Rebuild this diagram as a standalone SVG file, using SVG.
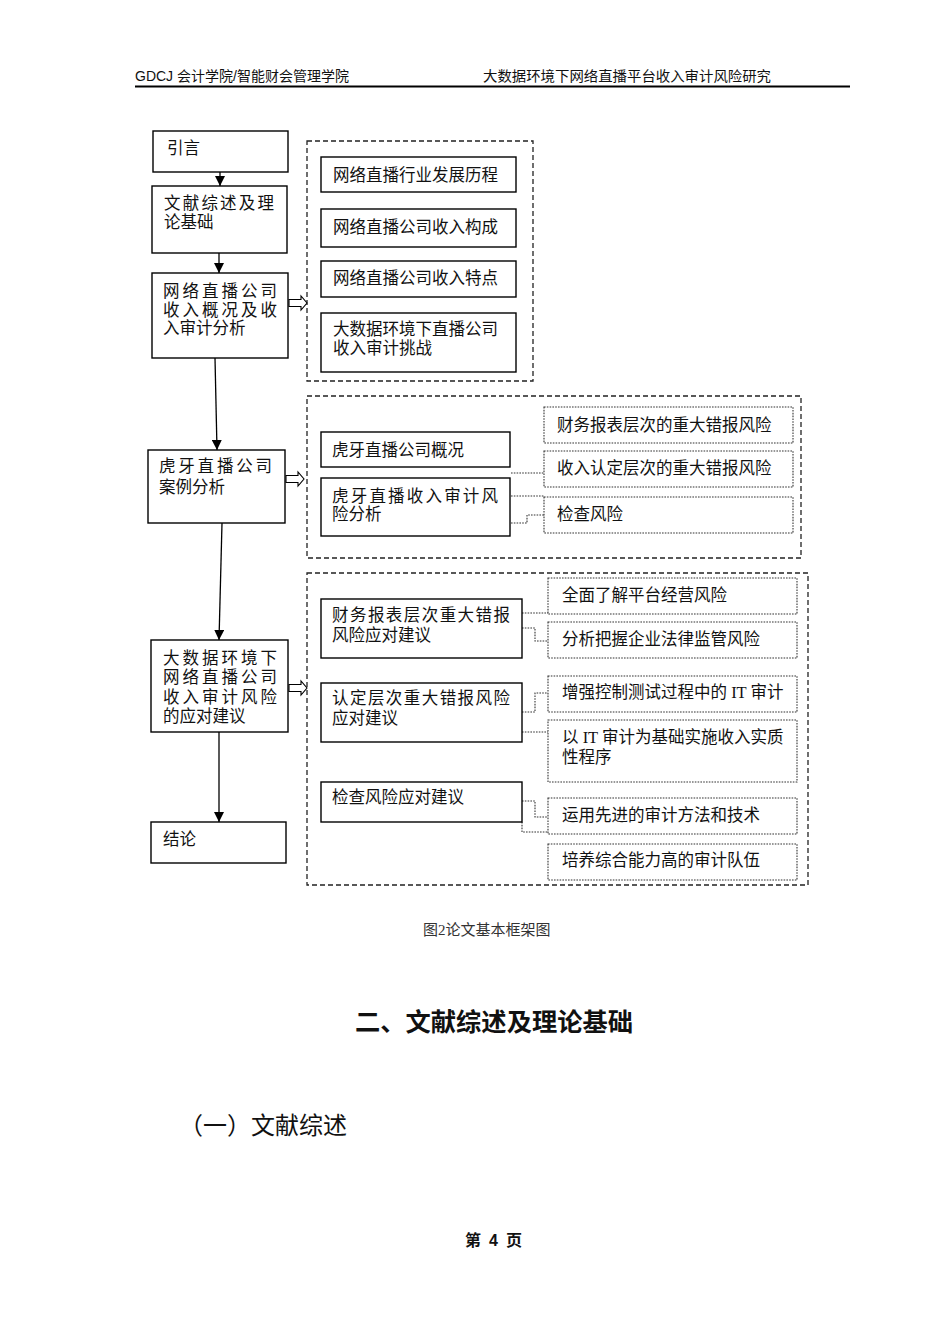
<svg xmlns="http://www.w3.org/2000/svg" width="950" height="1344" viewBox="0 0 950 1344">
<style>
text{font-family:"Liberation Sans","Noto Sans CJK SC",sans-serif;fill:#111;}
.t{font-size:16.5px;}
.s{font-family:"Liberation Serif","Noto Sans CJK SC",serif;font-size:16.5px;}
.box{fill:#fff;stroke:#000;stroke-width:1.4;}
.dbox{fill:#fff;stroke:#333;stroke-width:1.1;stroke-dasharray:1.6 1.2;}
.grp{fill:none;stroke:#222;stroke-width:1.3;stroke-dasharray:5 3;}
.con{fill:none;stroke:#333;stroke-width:1.1;stroke-dasharray:1.6 1.2;}
.ln{fill:none;stroke:#000;stroke-width:1.3;}
.hol{fill:#fff;stroke:#000;stroke-width:1.1;}
.hdr{font-size:14px;}
</style>
<defs>
<marker id="ah" viewBox="0 0 10 10" refX="10" refY="5" markerWidth="10" markerHeight="10" markerUnits="userSpaceOnUse" orient="auto">
<path d="M0,0 L10,5 L0,10 z" fill="#000"/>
</marker>
</defs>
<rect width="950" height="1344" fill="#fff"/>

<g id="header">
<text class="hdr" x="135" y="81">GDCJ 会计学院/智能财会管理学院</text>
<text class="hdr" x="483" y="81" textLength="288" lengthAdjust="spacingAndGlyphs">大数据环境下网络直播平台收入审计风险研究</text>
<line x1="135" y1="86.5" x2="850" y2="86.5" stroke="#000" stroke-width="1.8"/>
</g>

<g id="groups">
<rect class="grp" x="307" y="141" width="226" height="240"/>
<rect class="grp" x="307" y="396" width="494" height="162"/>
<rect class="grp" x="307" y="573" width="501" height="312"/>
</g>

<g id="connectors">
<line class="ln" x1="220" y1="172" x2="220" y2="186" marker-end="url(#ah)"/>
<line class="ln" x1="219" y1="253" x2="219" y2="273" marker-end="url(#ah)"/>
<line class="ln" x1="215" y1="358" x2="217" y2="450" marker-end="url(#ah)"/>
<line class="ln" x1="222" y1="523" x2="219" y2="640" marker-end="url(#ah)"/>
<line class="ln" x1="219" y1="732" x2="219" y2="822" marker-end="url(#ah)"/>
<polygon class="hol" points="289,299.5 301,299.5 301,296 307,303 301,310 301,306.5 289,306.5"/>
<polygon class="hol" points="286,475.5 298,475.5 298,472 304,479 298,486 298,482.5 286,482.5"/>
<polygon class="hol" points="289,684.5 301,684.5 301,681 307,688 301,695 301,691.5 289,691.5"/>
<path class="con" d="M511,473 H544"/>
<path class="con" d="M511,496 H544"/>
<path class="con" d="M511,523 H527 V515 H544"/>
<path class="con" d="M522,613 H548"/>
<path class="con" d="M522,628 H535 V641 H548"/>
<path class="con" d="M522,712 H535 V693 H548"/>
<path class="con" d="M522,732 H548"/>
<path class="con" d="M522,801 H535 V817 H548"/>
<path class="con" d="M522,822 V832 H548"/>
</g>

<g id="n-yinyan"><rect class="box" x="153" y="131" width="135" height="41"/><text class="t" x="167" y="154">引言</text></g>
<g id="n-wenxian"><rect class="box" x="152" y="186" width="135" height="67"/>
<text class="t"><tspan x="164" y="209" textLength="110" lengthAdjust="spacing">文献综述及理</tspan><tspan x="164" y="228">论基础</tspan></text></g>
<g id="n-wangluo"><rect class="box" x="152" y="273" width="136" height="85"/>
<text class="t"><tspan x="163" y="297" textLength="114" lengthAdjust="spacing">网络直播公司</tspan><tspan x="163" y="316" textLength="114" lengthAdjust="spacing">收入概况及收</tspan><tspan x="163" y="334">入审计分析</tspan></text></g>
<g id="n-huya"><rect class="box" x="148" y="450" width="137" height="73"/>
<text class="t"><tspan x="159" y="472" textLength="113" lengthAdjust="spacing">虎牙直播公司</tspan><tspan x="159" y="493">案例分析</tspan></text></g>
<g id="n-jianyi"><rect class="box" x="151" y="640" width="137" height="92"/>
<text class="t"><tspan x="163" y="664" textLength="114" lengthAdjust="spacing">大数据环境下</tspan><tspan x="163" y="683" textLength="114" lengthAdjust="spacing">网络直播公司</tspan><tspan x="163" y="703" textLength="114" lengthAdjust="spacing">收入审计风险</tspan><tspan x="163" y="722">的应对建议</tspan></text></g>
<g id="n-jielun"><rect class="box" x="151" y="822" width="135" height="41"/><text class="t" x="163" y="845">结论</text></g>

<g id="n-g1a"><rect class="box" x="321" y="157" width="195" height="35"/><text class="t" x="333" y="181">网络直播行业发展历程</text></g>
<g id="n-g1b"><rect class="box" x="321" y="209" width="195" height="38"/><text class="t" x="333" y="233">网络直播公司收入构成</text></g>
<g id="n-g1c"><rect class="box" x="321" y="261" width="195" height="36"/><text class="t" x="333" y="284">网络直播公司收入特点</text></g>
<g id="n-g1d"><rect class="box" x="321" y="313" width="195" height="59"/>
<text class="t"><tspan x="333" y="335">大数据环境下直播公司</tspan><tspan x="333" y="354">收入审计挑战</tspan></text></g>

<g id="n-g2a"><rect class="box" x="321" y="432" width="189" height="35"/><text class="t" x="332" y="456">虎牙直播公司概况</text></g>
<g id="n-g2b"><rect class="box" x="321" y="478" width="189" height="58"/>
<text class="t"><tspan x="332" y="502" textLength="166" lengthAdjust="spacing">虎牙直播收入审计风</tspan><tspan x="332" y="520">险分析</tspan></text></g>
<g id="n-g2c"><rect class="dbox" x="544" y="407" width="249" height="36"/><text class="s" x="557" y="431">财务报表层次的重大错报风险</text></g>
<g id="n-g2d"><rect class="dbox" x="544" y="451" width="249" height="36"/><text class="s" x="557" y="474">收入认定层次的重大错报风险</text></g>
<g id="n-g2e"><rect class="dbox" x="544" y="497" width="249" height="36"/><text class="s" x="557" y="520">检查风险</text></g>

<g id="n-g3a"><rect class="box" x="321" y="599" width="201" height="59"/>
<text class="t"><tspan x="332" y="621" textLength="178" lengthAdjust="spacing">财务报表层次重大错报</tspan><tspan x="332" y="641">风险应对建议</tspan></text></g>
<g id="n-g3b"><rect class="box" x="321" y="683" width="201" height="59"/>
<text class="t"><tspan x="332" y="704" textLength="178" lengthAdjust="spacing">认定层次重大错报风险</tspan><tspan x="332" y="724">应对建议</tspan></text></g>
<g id="n-g3c"><rect class="box" x="321" y="782" width="201" height="40"/><text class="t" x="332" y="803">检查风险应对建议</text></g>
<g id="n-g3d"><rect class="dbox" x="548" y="578" width="249" height="36"/><text class="s" x="562" y="601">全面了解平台经营风险</text></g>
<g id="n-g3e"><rect class="dbox" x="548" y="622" width="249" height="36"/><text class="s" x="562" y="645">分析把握企业法律监管风险</text></g>
<g id="n-g3f"><rect class="dbox" x="548" y="676" width="249" height="36"/><text class="s" x="562" y="698">增强控制测试过程中的 IT 审计</text></g>
<g id="n-g3g"><rect class="dbox" x="548" y="720" width="249" height="62"/>
<text class="s"><tspan x="562" y="743">以 IT 审计为基础实施收入实质</tspan><tspan x="562" y="763">性程序</tspan></text></g>
<g id="n-g3h"><rect class="dbox" x="548" y="798" width="249" height="36"/><text class="s" x="562" y="821">运用先进的审计方法和技术</text></g>
<g id="n-g3i"><rect class="dbox" x="548" y="844" width="249" height="36"/><text class="s" x="562" y="866">培养综合能力高的审计队伍</text></g>

<g id="page-text">
<text x="423" y="935" style="font-family:'Liberation Serif','Noto Sans CJK SC',serif;font-size:15px;fill:#333">图2论文基本框架图</text>
<text x="355" y="1031" style="font-size:25px;font-weight:bold" textLength="278" lengthAdjust="spacingAndGlyphs">二、文献综述及理论基础</text>
<text x="179" y="1134" style="font-size:24px">（一）文献综述</text>
<text x="465" y="1246" style="font-size:16px;font-weight:bold" textLength="57" lengthAdjust="spacing">第 4 页</text>
</g>
</svg>
